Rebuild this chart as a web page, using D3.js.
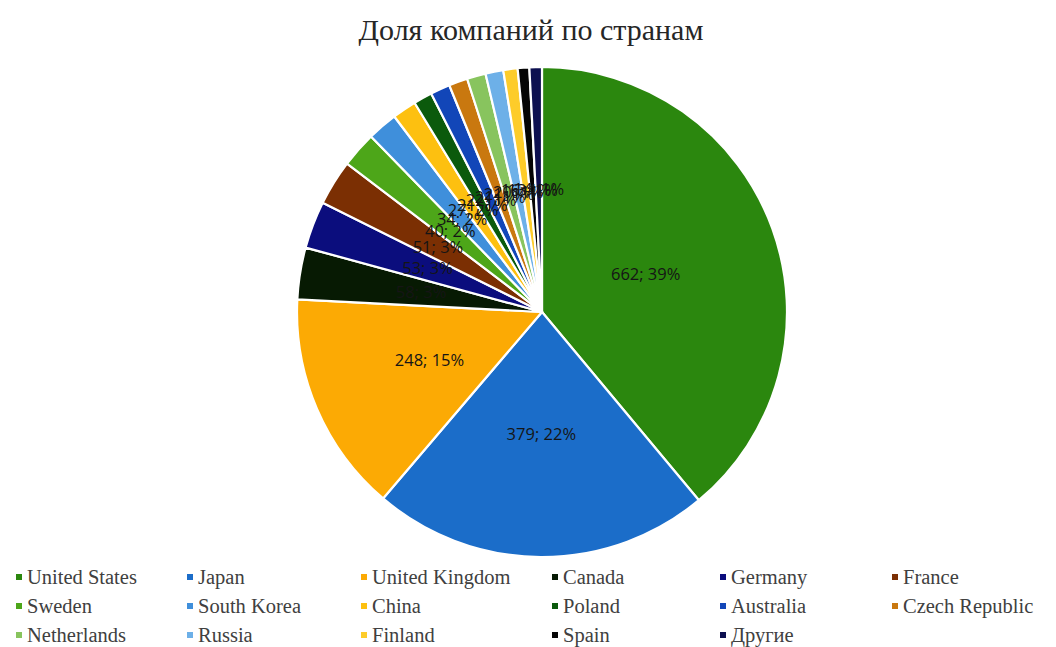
<!DOCTYPE html>
<html>
<head>
<meta charset="utf-8">
<script src="https://cdn.jsdelivr.net/npm/d3@7"></script>
<style>
  body { margin: 0; background: #fff; }
  #chart { width: 1056px; height: 647px; }
</style>
</head>
<body>
<div id="chart"></div>
<script>
// data
const countries = ["United States", "Japan", "United Kingdom", "Canada", "Germany", "France",
                   "Sweden", "South Korea", "China", "Poland", "Australia", "Czech Republic",
                   "Netherlands", "Russia", "Finland", "Spain", "Другие"];
const companies = [662, 379, 248, 58, 53, 51, 40, 34, 27, 21, 22, 21, 21, 20, 16, 13, 14];
const colours   = ["#2b870e", "#1b6dc9", "#fcaa04", "#071a03", "#0b0d7d", "#7b2f03",
                   "#4da619", "#3f8fdb", "#fdc010", "#0b5a0c", "#1246b8", "#c9780f",
                   "#88c45e", "#6db0e8", "#fdcc2a", "#050505", "#0d1050"];
const title = "Доля компаний по странам";

const W = 1056, H = 647;
const cx = 542, cy = 312, R = 245;   // pie centre + radius
const legendCols = [16, 187, 361, 552, 720, 892];  // marker x for each legend column
const legendRows = [577, 606, 635];

const total = d3.sum(companies);
const rows = countries.map((c, i) => ({ name: c, value: companies[i], colour: colours[i] }));

const svg = d3.select("#chart").append("svg")
    .attr("width", W)
    .attr("height", H);

svg.append("text")
    .attr("x", 531)
    .attr("y", 40)
    .attr("text-anchor", "middle")
    .attr("font-family", "'Liberation Serif', 'Times New Roman', serif")
    .attr("font-size", "30px")
    .attr("fill", "#262626")
    .text(title);

const pie = d3.pie().sort(null).value(d => d.value);
const arc = d3.arc().innerRadius(0).outerRadius(R);
const labelArc = d3.arc().innerRadius(R * 0.5).outerRadius(R * 0.5);

const g = svg.append("g").attr("transform", "translate(" + cx + "," + cy + ")");

g.selectAll("path")
    .data(pie(rows)).enter()
    .append("path")
    .attr("d", arc)
    .attr("fill", d => d.data.colour)
    .attr("stroke", "#fff")
    .attr("stroke-width", 2.2)
    .attr("stroke-linejoin", "round");

g.selectAll("text.lbl")
    .data(pie(rows)).enter()
    .append("text")
    .attr("class", "lbl")
    .attr("transform", d => {
        const p = labelArc.centroid(d);
        const k = d.data.value > 600 ? 0.9 : 1; // the big one sits a bit further in
        return "translate(" + p[0] * k + "," + p[1] * k + ")";
    })
    .attr("text-anchor", "middle")
    .attr("dy", "0.35em")
    .attr("font-family", "'Open Sans', 'Noto Sans', sans-serif")
    .attr("font-size", "16.5px")
    .attr("fill", "#151515")
    .text(d => d.data.value + "; " + Math.round(d.data.value / total * 100) + "%");

// legend, row by row
const leg = svg.append("g").attr("class", "legend")
    .selectAll("g")
    .data(rows).enter()
    .append("g")
    .attr("transform", (d, i) => "translate(" + legendCols[i % 6] + "," + legendRows[Math.floor(i / 6)] + ")");

leg.append("rect")
    .attr("x", 0)
    .attr("y", -3)
    .attr("width", 6)
    .attr("height", 6)
    .attr("fill", d => d.colour);

leg.append("text")
    .attr("x", 11)
    .attr("y", 0)
    .attr("dy", "0.35em")
    .attr("font-family", "'Liberation Serif', 'Times New Roman', serif")
    .attr("font-size", "20.5px")
    .attr("fill", "#404040")
    .text(d => d.name);
</script>
</body>
</html>
